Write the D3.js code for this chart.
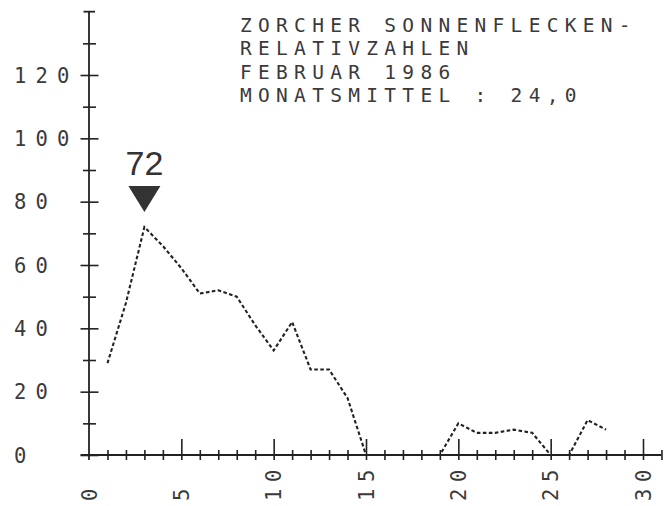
<!DOCTYPE html>
<html>
<head>
<meta charset="utf-8">
<script src="https://cdn.jsdelivr.net/npm/d3@7/dist/d3.min.js"></script>
<style>
    html, body { margin: 0; padding: 0; background: #fff; }
    svg { display: block; }
</style>
</head>
<body>
<div id="chart"></div>
<script>
// Zuercher Sonnenflecken-Relativzahlen, Februar 1986 (Tageswerte)
var days = [1, 2, 3, 4, 5, 6, 7, 8, 9, 10, 11, 12, 13, 14, 15, 16, 17, 18, 19, 20, 21, 22, 23, 24, 25, 26, 27, 28];
var sunspots = [29, 48, 72, 66, 59, 51, 52, 50, 41, 33, 42, 27, 27, 18, 0, 0, 0, 0, 0, 10, 7, 7, 8, 7, 0, 0, 11, 8];
var yLabelTicks = [0, 20, 40, 60, 80, 100, 120];
var yMinorTicks = [10, 30, 50, 70, 90, 110, 130];
var xLabelTicks = [0, 5, 10, 15, 20, 25, 30];
var xMinorTicks = [1, 2, 3, 4, 6, 7, 8, 9, 11, 12, 13, 14, 16, 17, 18, 19, 21, 22, 23, 24, 26, 27, 28, 29, 31];
var titleLines = ['ZORCHER SONNENFLECKEN-', 'RELATIVZAHLEN', 'FEBRUAR 1986', 'MONATSMITTEL : 24,0'];
var peakDay = 3;
var peakValue = 72;

var width = 672;
var height = 506;
var ink = '#222';
var mono = '"DejaVu Sans Mono", "Liberation Mono", monospace';

var svg = d3.select('#chart').append('svg')
    .attr('width', width)
    .attr('height', height);

var x = d3.scaleLinear().domain([0, 30]).range([89, 643]);
var y = d3.scaleLinear().domain([0, 120]).range([455, 75]);

// axis lines
svg.append('line')
    .attr('x1', x(0)).attr('x2', x(0))
    .attr('y1', y(140)).attr('y2', y(0) + 5)
    .attr('stroke', ink).attr('stroke-width', 1.8);
svg.append('line')
    .attr('x1', x(0) - 5.5).attr('x2', x(0) + 6)
    .attr('y1', y(140)).attr('y2', y(140))
    .attr('stroke', ink).attr('stroke-width', 1.8);
svg.append('line')
    .attr('x1', x(-0.45)).attr('x2', x(31))
    .attr('y1', y(0)).attr('y2', y(0))
    .attr('stroke', ink).attr('stroke-width', 1.8);

// ticks crossing the axes, both sides
function crossTicks(axisA, axisB, tx, ty) {
    [axisA, axisB].forEach(function(axis) {
        var g = svg.append('g')
            .attr('transform', 'translate(' + tx + ',' + ty + ')')
            .call(axis);
        g.select('.domain').remove();
        g.selectAll('line').attr('stroke', ink).attr('stroke-width', 1.6);
        g.selectAll('text').remove();
    });
}

crossTicks(
    d3.axisLeft(y).tickValues(yLabelTicks).tickSize(8.5).tickFormat(''),
    d3.axisRight(y).tickValues(yLabelTicks).tickSize(9.5).tickFormat(''),
    x(0), 0);
crossTicks(
    d3.axisLeft(y).tickValues(yMinorTicks).tickSize(6).tickFormat(''),
    d3.axisRight(y).tickValues(yMinorTicks).tickSize(7).tickFormat(''),
    x(0), 0);
crossTicks(
    d3.axisTop(x).tickValues(xMinorTicks).tickSize(5).tickFormat(''),
    d3.axisBottom(x).tickValues(xMinorTicks).tickSize(5).tickFormat(''),
    0, y(0));
crossTicks(
    d3.axisTop(x).tickValues(xLabelTicks.slice(1)).tickSize(16).tickFormat(''),
    d3.axisBottom(x).tickValues(xLabelTicks.slice(1)).tickSize(5).tickFormat(''),
    0, y(0));

// y labels, printer style
svg.append('g').selectAll('text')
    .data(yLabelTicks)
    .enter().append('text')
    .attr('x', 14)
    .attr('y', function(d) { return y(d) + 7.5; })
    .attr('font-family', mono)
    .attr('font-size', 20.5)
    .attr('letter-spacing', 9.1)
    .attr('fill', '#3a3a3a')
    .text(function(d) { return d; });

// x labels, turned on their side
svg.append('g').selectAll('text')
    .data(xLabelTicks)
    .enter().append('text')
    .attr('transform', function(d) {
        return 'translate(' + (x(d) + 7.5) + ',501) rotate(-90)';
    })
    .attr('font-family', mono)
    .attr('font-size', 20.5)
    .attr('letter-spacing', 6.7)
    .attr('fill', '#3a3a3a')
    .text(function(d) { return d; });

// title block
svg.append('g').selectAll('text')
    .data(titleLines)
    .enter().append('text')
    .attr('x', 240)
    .attr('y', function(d, i) { return 32 + i * 23.3; })
    .attr('font-family', mono)
    .attr('font-size', 19.5)
    .attr('letter-spacing', 6.3)
    .attr('fill', '#3a3a3a')
    .text(function(d) { return d; });

// daily values
var line = d3.line()
    .x(function(d, i) { return x(days[i]); })
    .y(function(d) { return y(d); });

svg.append('path')
    .datum(sunspots)
    .attr('d', line)
    .attr('fill', 'none')
    .attr('stroke', ink)
    .attr('stroke-width', 2.1)
    .attr('stroke-dasharray', '3.6,2.4');

// peak marker
var px = x(peakDay);
var py = y(peakValue);
svg.append('path')
    .attr('d', 'M' + (px - 16) + ',' + (py - 41) + 'L' + (px + 16) + ',' + (py - 41) + 'L' + px + ',' + (py - 15) + 'Z')
    .attr('fill', '#333');
svg.append('text')
    .attr('x', px)
    .attr('y', py - 52)
    .attr('text-anchor', 'middle')
    .attr('font-family', '"Liberation Sans", Arial, sans-serif')
    .attr('font-size', 34)
    .attr('fill', '#333')
    .text(peakValue);
</script>
</body>
</html>
